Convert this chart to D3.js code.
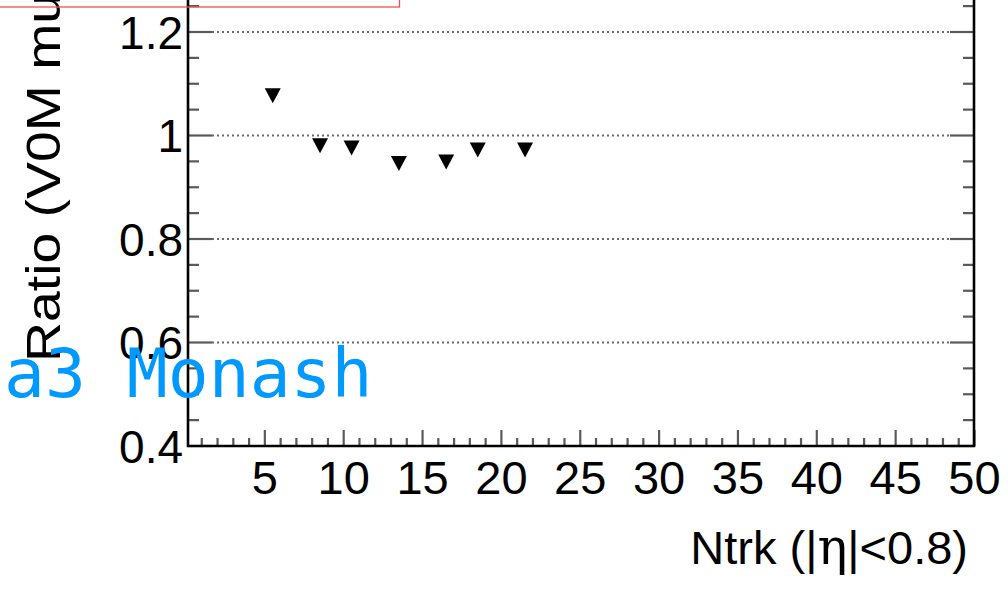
<!DOCTYPE html>
<html><head><meta charset="utf-8">
<script src="https://cdn.jsdelivr.net/npm/d3@7"></script>
<style>html,body{margin:0;padding:0;background:#fff;overflow:hidden}</style>
</head><body>
<script>
// ---- data ----
const ntrk = [5.5, 8.5, 10.5, 13.5, 16.5, 18.5, 21.5];
const ratio = [1.077, 0.980, 0.976, 0.946, 0.949, 0.972, 0.972];
const xTickValues = [5, 10, 15, 20, 25, 30, 35, 40, 45, 50];
const yTickValues = [0.4, 0.6, 0.8, 1.0, 1.2];
const yTickLabels = ["0.4", "0.6", "0.8", "1", "1.2"];
const xTitleParts = ["Ntrk (|", "η", "|<0.8)"];
const yTitle = "Ratio (V0M multiplicity class / MB)";
const overlayText = "a3 Monash";

const W = 1008, H = 605;
const svg = d3.select("body").append("svg").attr("width", W).attr("height", H)
  .style("font-family", "'Liberation Sans', Arial, Helvetica, sans-serif");

const left = 188, right = 974, bottom = 446;
const x = d3.scaleLinear().domain([0, 50]).range([186, 974.5]);
const y = d3.scaleLinear().domain([0.4, 1.4]).range([bottom, bottom - 517.5]);

// grid (dotted)
svg.append("g").selectAll("line").data(yTickValues.filter(v => v > 0.4)).join("line")
  .attr("x1", left + 24).attr("x2", right - 24)
  .attr("y1", d => y(d)).attr("y2", d => y(d))
  .attr("stroke", "#6a6a6a").attr("stroke-width", 2).attr("stroke-dasharray", "2,3");

// y ticks (both sides)
const yMajorAll = y.ticks(5);
const yMinor = d3.range(0.45, 1.4, 0.05).filter(v => yMajorAll.every(m => Math.abs(m - v) > 0.01));
const tickG = svg.append("g").attr("stroke", "#5a5a5a").attr("stroke-width", 2.2);
[[left, 1], [right, -1]].forEach(([x0, dir]) => {
  tickG.append("g").selectAll("line").data(yMinor).join("line")
    .attr("x1", x0).attr("x2", x0 + dir * 11)
    .attr("y1", d => y(d)).attr("y2", d => y(d));
  tickG.append("g").selectAll("line").data(yMajorAll).join("line")
    .attr("x1", x0).attr("x2", x0 + dir * 24)
    .attr("y1", d => y(d)).attr("y2", d => y(d));
});
// x ticks
const xMinor = d3.range(1, 50, 1).filter(v => v % 5 !== 0);
tickG.append("g").selectAll("line").data(xMinor).join("line")
  .attr("x1", d => x(d)).attr("x2", d => x(d))
  .attr("y1", bottom).attr("y2", bottom - 8);
tickG.append("g").selectAll("line").data(xTickValues).join("line")
  .attr("x1", d => x(d)).attr("x2", d => x(d))
  .attr("y1", bottom).attr("y2", bottom - 16);

// frame
svg.append("path")
  .attr("d", `M${left},-10 L${left},${bottom} L${right},${bottom} L${right},-10`)
  .attr("fill", "none").attr("stroke", "#000").attr("stroke-width", 2.6);

// tick labels
svg.append("g").selectAll("text").data(yTickValues).join("text")
  .attr("x", 183).attr("y", d => y(d)).attr("dy", "0.36em")
  .attr("text-anchor", "end").attr("font-size", 46).attr("fill", "#000")
  .text((d, i) => yTickLabels[i]);
svg.append("g").selectAll("text").data(xTickValues).join("text")
  .attr("x", d => x(d)).attr("y", 494)
  .attr("text-anchor", "middle").attr("font-size", 47).attr("fill", "#000")
  .text(d => d);

// axis titles
const xt = svg.append("text").attr("x", 968).attr("y", 564).attr("text-anchor", "end")
  .attr("font-size", 47).attr("fill", "#000");
xt.append("tspan").text(xTitleParts[0]);
xt.append("tspan").attr("font-size", 50).attr("font-family", "'DejaVu Serif', serif").text(xTitleParts[1]);
xt.append("tspan").text(xTitleParts[2]);
svg.append("text").attr("transform", "translate(60,362) rotate(-90) scale(1.13,1)")
  .attr("text-anchor", "start").attr("font-size", 49).attr("fill", "#000").text(yTitle);

// markers (inverted triangles)
svg.append("g").selectAll("path").data(ntrk).join("path")
  .attr("d", (d, i) => {
    const cx = x(d), cy = y(ratio[i]);
    return `M${cx - 8},${cy - 7.5} L${cx + 8},${cy - 7.5} L${cx},${cy + 7.5} Z`;
  })
  .attr("fill", "#000");

// red box at top
svg.append("rect").attr("x", -10).attr("y", -10).attr("width", 409.5).attr("height", 17)
  .attr("fill", "none").attr("stroke", "#f25050").attr("stroke-width", 1.3);

// overlay text
svg.append("text").attr("x", 4).attr("y", 397)
  .attr("font-family", "'DejaVu Sans Mono', monospace").attr("font-size", 68)
  .attr("fill", "#0099ff").text(overlayText);
</script>
</body></html>
